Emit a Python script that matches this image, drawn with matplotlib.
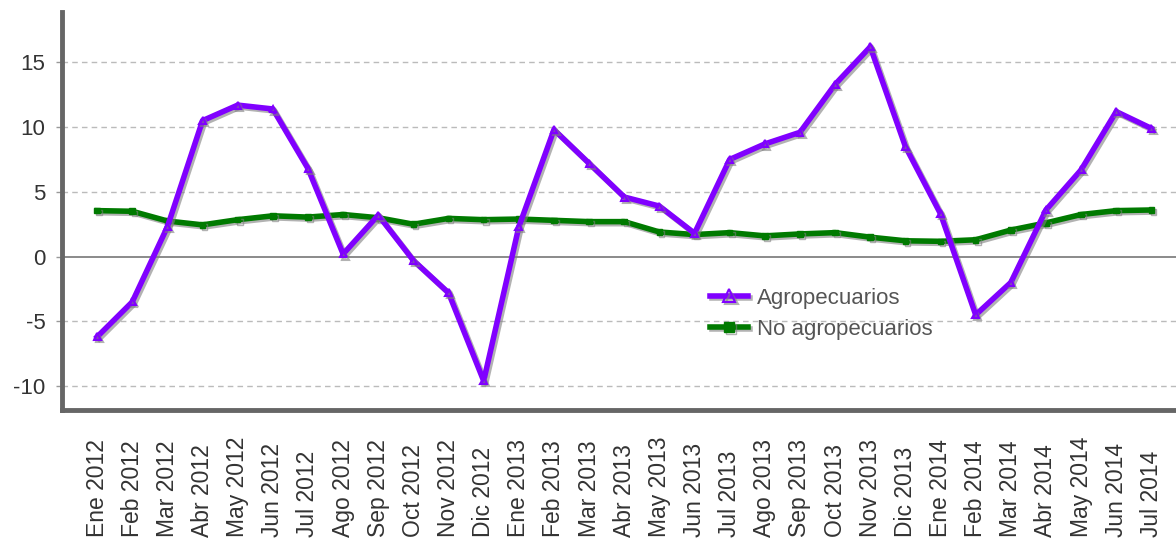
import numpy as np
import matplotlib.pyplot as plt
import matplotlib.patheffects as pe
import matplotlib.transforms as mtransforms

# Month labels
months = ["Ene 2012", "Feb 2012", "Mar 2012", "Abr 2012", "May 2012", "Jun 2012",
          "Jul 2012", "Ago 2012", "Sep 2012", "Oct 2012", "Nov 2012", "Dic 2012",
          "Ene 2013", "Feb 2013", "Mar 2013", "Abr 2013", "May 2013", "Jun 2013",
          "Jul 2013", "Ago 2013", "Sep 2013", "Oct 2013", "Nov 2013", "Dic 2013",
          "Ene 2014", "Feb 2014", "Mar 2014", "Abr 2014", "May 2014", "Jun 2014",
          "Jul 2014"]

# Series values
agro = [-6.2, -3.5, 2.3, 10.5, 11.7, 11.4, 6.8, 0.2, 3.2, -0.3, -2.8, -9.6,
        2.3, 9.8, 7.2, 4.6, 3.9, 1.8, 7.5, 8.7, 9.6, 13.3, 16.2, 8.5,
        3.3, -4.5, -2.0, 3.6, 6.7, 11.2, 9.9]
no_agro = [3.55, 3.5, 2.75, 2.45, 2.85, 3.15, 3.05, 3.25, 3.0, 2.5, 2.95, 2.85,
           2.9, 2.8, 2.7, 2.7, 1.9, 1.7, 1.85, 1.6, 1.75, 1.85, 1.5, 1.22,
           1.18, 1.3, 2.05, 2.6, 3.25, 3.55, 3.6]

plt.rcParams['font.family'] = ['Liberation Sans', 'DejaVu Sans']

fig = plt.figure(figsize=(11.76, 5.4), dpi=100)
ax = fig.add_axes([0.0527, 0.2407, 0.9473, 0.7373])

x = np.arange(len(months))
shadow = [pe.SimpleLineShadow(offset=(1.5, -1.5), shadow_color='gray', alpha=0.6), pe.Normal()]

ax.plot(x, agro, color='#8000FF', lw=4, marker='^', ms=5, mfc='none', mec='#8000FF',
        mew=1.5, label='Agropecuarios', path_effects=shadow, zorder=4)
ax.plot(x, no_agro, color='#007A00', lw=4, marker='s', ms=4, mfc='#007A00', mec='#007A00',
        label='No agropecuarios', path_effects=shadow, zorder=3)

ax.set_xlim(-1, 30.7)
ax.set_ylim(-11.85, 18.9)
ax.set_yticks([-10, -5, 0, 5, 10, 15])
ax.set_yticklabels(['-10', '-5', '0', '5', '10', '15'])
ax.set_xticks(x)
ax.set_xticklabels([])

# Month labels aligned at the bottom edge of the figure
trans = mtransforms.blended_transform_factory(ax.transData, fig.transFigure)
for xi, m in zip(x, months):
    ax.text(xi, 0.006, m, transform=trans, rotation=90, ha='center', va='bottom',
            fontsize=16.5, color='#333333', clip_on=False)

for yv in [-10, -5, 5, 10, 15]:
    ax.axhline(yv, color='#BBBBBB', lw=1, ls=(0, (4, 3)), zorder=1)
ax.axhline(0, color='#777777', lw=1.2, zorder=1)

for side in ['top', 'right']:
    ax.spines[side].set_visible(False)
for side in ['left', 'bottom']:
    ax.spines[side].set_color('#666666')
    ax.spines[side].set_linewidth(3.5)

ax.tick_params(axis='y', labelsize=16, colors='#333333', length=4, width=1, color='#999999',
               pad=8)
ax.tick_params(axis='x', length=0)

leg = ax.legend(loc='upper left', bbox_to_anchor=(0.574, 0.33), frameon=False,
                fontsize=16, handlelength=1.7, handletextpad=0.4, labelspacing=0.45,
                borderaxespad=0, markerscale=1.8)
for t in leg.get_texts():
    t.set_color('#555555')

fig.savefig('out.png', dpi=100)
